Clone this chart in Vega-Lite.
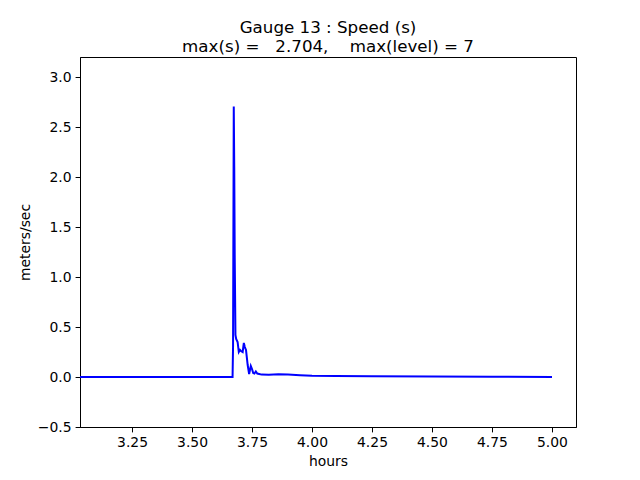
{
  "$schema": "https://vega.github.io/schema/vega-lite/v6.json",
  "width": 496,
  "height": 370,
  "autosize": {"type": "none"},
  "padding": {"left": 80, "top": 57, "right": 64, "bottom": 53},
  "background": "white",
  "title": {
    "text": ["Gauge 13 : Speed (s)", "max(s) =\u00a0\u00a0 2.704,\u00a0\u00a0\u00a0 max(level) = 7"],
    "font": "DejaVu Sans",
    "fontSize": 16.7,
    "fontWeight": "normal",
    "color": "black",
    "anchor": "middle",
    "offset": 1,
    "lineHeight": 19
  },
  "config": {
    "view": {"stroke": "black", "strokeWidth": 1},
    "axis": {
      "grid": false,
      "domainColor": "black",
      "tickColor": "black",
      "tickSize": 4.9,
      "labelFont": "DejaVu Sans",
      "labelFontSize": 13.9,
      "labelColor": "black",
      "labelPadding": 4,
      "titleFont": "DejaVu Sans",
      "titleFontSize": 13.9,
      "titleFontWeight": "normal",
      "titleColor": "black"
    }
  },
  "data": {
    "values": [
      {"h": 3.033, "s": 0},
      {"h": 3.4, "s": 0},
      {"h": 3.669, "s": 0},
      {"h": 3.671, "s": 0.3},
      {"h": 3.674, "s": 2.704},
      {"h": 3.676, "s": 2.1},
      {"h": 3.678, "s": 1.2},
      {"h": 3.681, "s": 0.42},
      {"h": 3.684, "s": 0.38},
      {"h": 3.690, "s": 0.35},
      {"h": 3.695, "s": 0.25},
      {"h": 3.700, "s": 0.27},
      {"h": 3.704, "s": 0.26},
      {"h": 3.711, "s": 0.25},
      {"h": 3.716, "s": 0.34},
      {"h": 3.720, "s": 0.30},
      {"h": 3.725, "s": 0.27},
      {"h": 3.732, "s": 0.12},
      {"h": 3.738, "s": 0.03},
      {"h": 3.745, "s": 0.11},
      {"h": 3.750, "s": 0.08},
      {"h": 3.755, "s": 0.04},
      {"h": 3.760, "s": 0.035},
      {"h": 3.766, "s": 0.055},
      {"h": 3.772, "s": 0.035},
      {"h": 3.780, "s": 0.03},
      {"h": 3.79, "s": 0.024},
      {"h": 3.82, "s": 0.022},
      {"h": 3.86, "s": 0.028},
      {"h": 3.90, "s": 0.024},
      {"h": 3.95, "s": 0.017},
      {"h": 4.0, "s": 0.012},
      {"h": 4.1, "s": 0.009},
      {"h": 4.25, "s": 0.007},
      {"h": 4.5, "s": 0.004},
      {"h": 4.75, "s": 0.002},
      {"h": 5.0, "s": 0.001}
    ]
  },
  "mark": {"type": "line", "color": "blue", "strokeWidth": 2, "clip": true},
  "encoding": {
    "x": {
      "field": "h",
      "type": "quantitative",
      "scale": {"domain": [3.0333, 5.1], "nice": false, "zero": false},
      "axis": {"title": "hours", "values": [3.25, 3.5, 3.75, 4.0, 4.25, 4.5, 4.75, 5.0], "format": ".2f", "titlePadding": 5}
    },
    "y": {
      "field": "s",
      "type": "quantitative",
      "scale": {"domain": [-0.5, 3.2], "nice": false, "zero": false},
      "axis": {"title": "meters/sec", "values": [-0.5, 0, 0.5, 1.0, 1.5, 2.0, 2.5, 3.0], "format": ".1f", "titlePadding": 5}
    }
  }
}
